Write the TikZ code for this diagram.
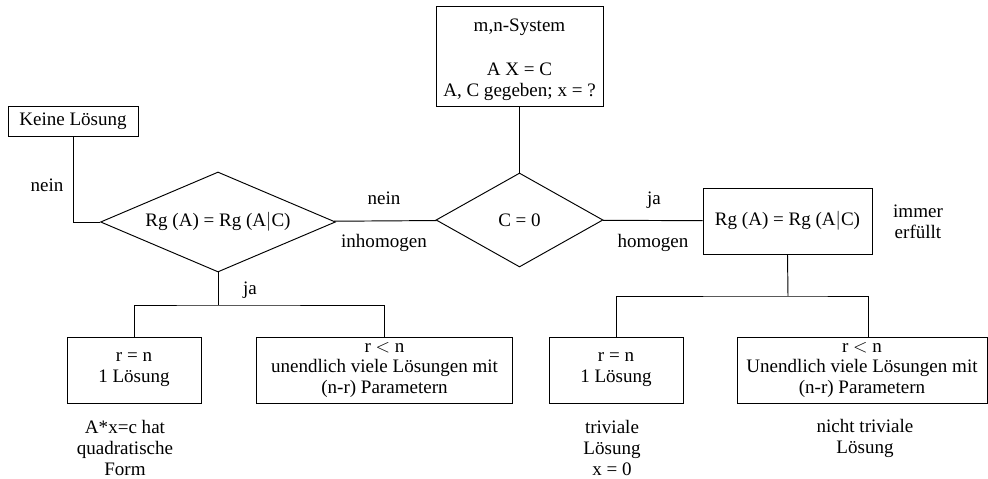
\documentclass[tikz,border=0pt]{standalone}
\usepackage{fontspec}
\setmainfont{Liberation Serif}
\usetikzlibrary{shapes.geometric}

\tikzset{
  every node/.style={font=\fontsize{12}{13.2}\selectfont, align=center},
  box/.style={rectangle, draw, inner sep=0pt, minimum height=41.6pt},
  decision/.style={diamond, draw, inner sep=0pt},
  lbl/.style={inner sep=1pt}
}

\begin{document}
\begin{tikzpicture}[x=0.63pt, y=-0.63pt, line width=0.6pt]
\useasboundingbox (0,0) rectangle (988,479);

\coordinate (S) at (519.5,56.5);
\coordinate (Q) at (519.5,220);
\coordinate (L) at (218,222);
\coordinate (R) at (787.5,221);
\coordinate (K) at (73,121.5);
\coordinate (F1) at (218,305);
\coordinate (F2) at (788,296);

\node[box, minimum width=105.2pt, minimum height=62.4pt] (S1) at (S)
  {\rule{0pt}{12pt}m,n-System\\[14pt]A X = C\\A, C gegeben; x = ?};
\node[decision, aspect=1.78, minimum width=105.2pt, minimum height=59.2pt] (Q1) at (Q) {C = 0};
\node[decision, aspect=2.35, minimum width=148pt, minimum height=63pt] (L1) at (L) {Rg (A) = Rg (A$|$C)};
\node[box, minimum width=106.5pt] (R1) at (R) {Rg (A) = Rg (A$|$C)};
\node[box, minimum width=81.9pt, minimum height=19.5pt] (K1) at (K) {Keine Lösung};

\node[box, minimum width=84.4pt] (N1) at (134,370) {r = n\\1 Lösung};
\node[box, minimum width=160.7pt] (M1) at (384.5,370) {r $<$ n\\unendlich viele Lösungen mit\\(n-r) Parametern};
\node[box, minimum width=84.4pt] (N2) at (616,370) {r = n\\1 Lösung};
\node[box, minimum width=157.5pt] (M2) at (862,370) {r $<$ n\\Unendlich viele Lösungen mit\\(n-r) Parametern};

\node[lbl] (nein1) at (47,185) {nein};
\node[lbl] (nein2) at (384,198) {nein};
\node[lbl] (inh) at (384,243) {inhomogen};
\node[lbl] (ja1) at (250,290) {ja};
\node[lbl] (ja2) at (654,200) {ja};
\node[lbl] (hom) at (653,243) {homogen};
\node[lbl] (imm) at (918,222) {immer\\erfüllt};
\node[lbl] (quad) at (125,448) {A*x=c hat\\quadratische\\Form};
\node[lbl] (triv) at (612,448) {triviale\\Lösung\\x = 0};
\node[lbl] (ntriv) at (865,438) {nicht triviale\\Lösung};

\draw (S1) -- (Q1);
\draw (Q1) -- (L1);
\draw (Q1) -- (R1);
\draw (L1.west) -| (K1.south);
\draw (L1.south) -- (F1);
\draw (N1.north) |- (F1) -| (M1.north);
\draw (R1.south) -- (F2);
\draw (N2.north) |- (F2) -| ([xshift=3.8pt]M2.north);

\end{tikzpicture}
\end{document}
